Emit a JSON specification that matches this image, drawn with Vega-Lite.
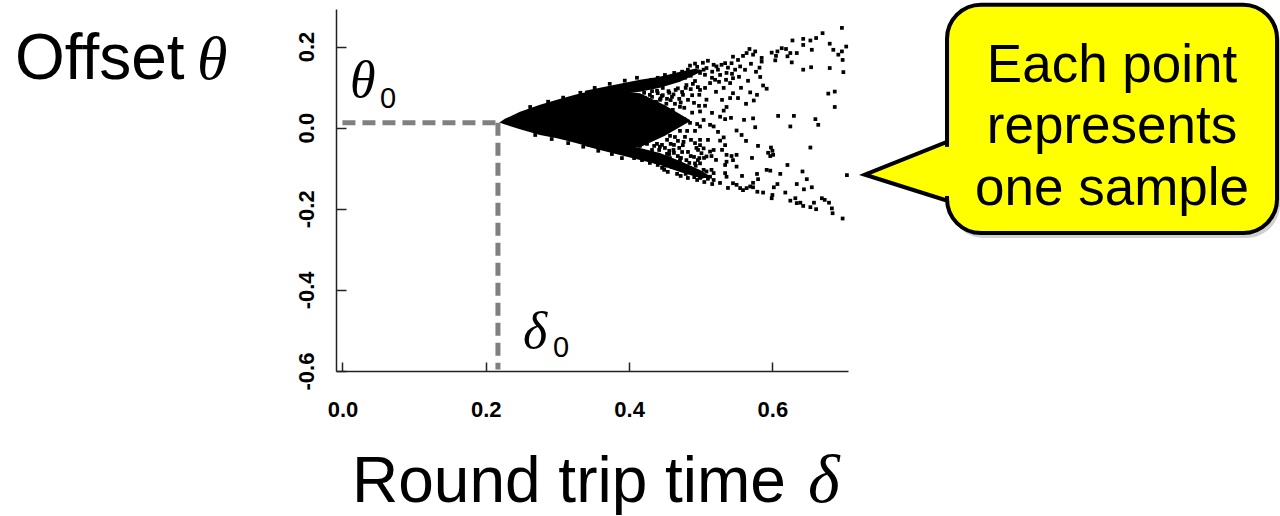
{
  "$schema": "https://vega.github.io/schema/vega-lite/v6.json",
  "width": 512,
  "height": 362,
  "autosize": "none",
  "padding": {"left": 336, "top": 9, "right": 432, "bottom": 145},
  "background": "white",
  "config": {"view": {"stroke": null}},
  "datasets": {
    "pts": [
      {"x":0.348,"y":0.061},{"x":0.352,"y":0.049},{"x":0.347,"y":0.037},{"x":0.355,"y":0.024},{"x":0.350,"y":0.009},{"x":0.357,"y":-0.003},{"x":0.351,"y":-0.015},{"x":0.358,"y":-0.025},{"x":0.362,"y":0.056},{"x":0.365,"y":0.039},{"x":0.361,"y":0.017},{"x":0.368,"y":0.002},{"x":0.364,"y":-0.013},
      {"x":0.371,"y":0.069},{"x":0.375,"y":0.051},{"x":0.372,"y":0.032},{"x":0.378,"y":0.022},{"x":0.373,"y":-0.008},{"x":0.379,"y":-0.023},{"x":0.383,"y":0.059},{"x":0.386,"y":0.041},{"x":0.382,"y":0.009},{"x":0.387,"y":-0.003},{"x":0.385,"y":-0.035},{"x":0.376,"y":-0.043},
      {"x":0.390,"y":0.074},{"x":0.394,"y":0.059},{"x":0.398,"y":0.044},{"x":0.392,"y":0.027},{"x":0.397,"y":0.009},{"x":0.403,"y":-0.008},{"x":0.393,"y":-0.020},{"x":0.400,"y":-0.033},{"x":0.407,"y":0.069},{"x":0.411,"y":0.051},{"x":0.405,"y":0.032},{"x":0.412,"y":0.014},{"x":0.410,"y":-0.020},{"x":0.415,"y":-0.045},{"x":0.404,"y":-0.050},{"x":0.396,"y":-0.055},
      {"x":0.418,"y":0.103},{"x":0.422,"y":0.113},{"x":0.426,"y":0.098},{"x":0.431,"y":0.118},{"x":0.436,"y":0.108},{"x":0.440,"y":0.123},{"x":0.421,"y":0.086},{"x":0.429,"y":0.081},{"x":0.439,"y":0.091},{"x":0.424,"y":0.066},{"x":0.433,"y":0.049},{"x":0.442,"y":0.037},{"x":0.419,"y":0.022},{"x":0.426,"y":0.004},{"x":0.436,"y":-0.008},{"x":0.417,"y":-0.028},{"x":0.425,"y":-0.040},{"x":0.432,"y":-0.055},{"x":0.440,"y":-0.067},{"x":0.421,"y":-0.067},{"x":0.429,"y":-0.080},{"x":0.438,"y":-0.085},{"x":0.443,"y":-0.047},
      {"x":0.446,"y":0.121},{"x":0.450,"y":0.130},{"x":0.454,"y":0.113},{"x":0.459,"y":0.125},{"x":0.463,"y":0.135},{"x":0.467,"y":0.118},{"x":0.471,"y":0.130},{"x":0.447,"y":0.098},{"x":0.456,"y":0.086},{"x":0.465,"y":0.093},{"x":0.452,"y":0.059},{"x":0.461,"y":0.044},{"x":0.470,"y":0.071},{"x":0.449,"y":0.014},{"x":0.459,"y":-0.001},{"x":0.468,"y":0.024},{"x":0.453,"y":-0.030},{"x":0.464,"y":-0.023},{"x":0.446,"y":-0.080},{"x":0.450,"y":-0.094},{"x":0.457,"y":-0.075},{"x":0.461,"y":-0.087},{"x":0.465,"y":-0.099},{"x":0.471,"y":-0.080},{"x":0.456,"y":-0.057},{"x":0.470,"y":-0.050},
      {"x":0.474,"y":0.138},{"x":0.478,"y":0.123},{"x":0.482,"y":0.143},{"x":0.486,"y":0.128},{"x":0.491,"y":0.138},{"x":0.495,"y":0.150},{"x":0.499,"y":0.135},{"x":0.479,"y":0.098},{"x":0.489,"y":0.108},{"x":0.498,"y":0.081},{"x":0.477,"y":0.049},{"x":0.488,"y":0.037},{"x":0.495,"y":0.009},{"x":0.481,"y":-0.008},{"x":0.475,"y":-0.043},{"x":0.492,"y":-0.038},{"x":0.474,"y":-0.092},{"x":0.478,"y":-0.104},{"x":0.484,"y":-0.087},{"x":0.488,"y":-0.109},{"x":0.493,"y":-0.094},{"x":0.498,"y":-0.117},{"x":0.482,"y":-0.124},{"x":0.496,"y":-0.080},
      {"x":0.401,"y":-0.067},{"x":0.407,"y":-0.075},{"x":0.412,"y":-0.062},{"x":0.418,"y":-0.080},{"x":0.424,"y":-0.072},{"x":0.429,"y":-0.087},{"x":0.435,"y":-0.075},{"x":0.440,"y":-0.092},{"x":0.446,"y":-0.099},
      {"x":0.449,"y":-0.104},{"x":0.454,"y":-0.109},{"x":0.460,"y":-0.097},{"x":0.467,"y":-0.114},{"x":0.472,"y":-0.119},{"x":0.479,"y":-0.114},{"x":0.485,"y":-0.099},{"x":0.491,"y":-0.122},{"x":0.495,"y":-0.129},{"x":0.499,"y":-0.124},{"x":0.505,"y":-0.134},{"x":0.510,"y":-0.126},{"x":0.516,"y":-0.139},
      {"x":0.485,"y":0.153},{"x":0.492,"y":0.158},
      {"x":0.432,"y":0.090},{"x":0.440,"y":0.085},{"x":0.447,"y":0.080},{"x":0.455,"y":0.090},{"x":0.462,"y":0.082},{"x":0.468,"y":0.097},{"x":0.474,"y":0.088},{"x":0.480,"y":0.105},{"x":0.486,"y":0.095},{"x":0.492,"y":0.115},{"x":0.458,"y":0.068},{"x":0.472,"y":0.062},{"x":0.488,"y":0.080},{"x":0.496,"y":0.100},{"x":0.444,"y":0.072},
      {"x":0.435,"y":-0.045},{"x":0.442,"y":-0.055},{"x":0.450,"y":-0.050},{"x":0.456,"y":-0.065},{"x":0.462,"y":-0.055},{"x":0.468,"y":-0.070},{"x":0.474,"y":-0.060},{"x":0.480,"y":-0.080},{"x":0.486,"y":-0.070},{"x":0.492,"y":-0.088},{"x":0.498,"y":-0.075},{"x":0.458,"y":-0.040},{"x":0.476,"y":-0.035},{"x":0.494,"y":-0.050},
      {"x":0.3957,"y":0.0637},{"x":0.4013,"y":0.0588},{"x":0.3985,"y":-0.0252},{"x":0.4068,"y":-0.0326},{"x":0.4138,"y":0.0563},{"x":0.4166,"y":0.044},{"x":0.411,"y":-0.0079},{"x":0.418,"y":-0.0202},
      {"x":0.4222,"y":0.0736},{"x":0.4278,"y":0.0588},{"x":0.432,"y":0.076},{"x":0.4375,"y":0.0637},{"x":0.4431,"y":0.0686},{"x":0.4208,"y":0.0341},{"x":0.4292,"y":0.0217},{"x":0.4236,"y":-0.0128},{"x":0.432,"y":-0.0252},{"x":0.4389,"y":-0.04},{"x":0.4417,"y":0.0094},{"x":0.4347,"y":0.002},{"x":0.4445,"y":-0.0128},
      {"x":0.4459,"y":0.0785},{"x":0.4529,"y":0.0711},{"x":0.4599,"y":0.076},{"x":0.464,"y":0.0588},{"x":0.471,"y":0.0514},{"x":0.4473,"y":0.039},{"x":0.4557,"y":0.0291},{"x":0.4654,"y":0.0094},{"x":0.471,"y":-0.0079},{"x":0.4487,"y":-0.0104},{"x":0.4571,"y":-0.0202},{"x":0.4626,"y":-0.0425},{"x":0.4682,"y":-0.0326},{"x":0.4459,"y":-0.0425},{"x":0.4529,"y":-0.0647},{"x":0.4626,"y":-0.0622},
      {"x":0.4752,"y":0.081},{"x":0.4822,"y":0.0686},{"x":0.4906,"y":0.0612},{"x":0.4976,"y":0.0538},{"x":0.4766,"y":0.0217},{"x":0.485,"y":0.0119},{"x":0.492,"y":-0.0079},{"x":0.478,"y":-0.0227},{"x":0.4864,"y":-0.0301},{"x":0.4962,"y":-0.0548},{"x":0.4822,"y":-0.0598},{"x":0.4906,"y":-0.0721},{"x":0.499,"y":-0.0301},{"x":0.4724,"y":-0.0746},
      {"x":0.559,"y":0.177},{"x":0.564,"y":0.184},{"x":0.555,"y":0.151},{"x":0.543,"y":0.159},{"x":0.534,"y":0.159},{"x":0.529,"y":0.155},{"x":0.522,"y":0.151},{"x":0.518,"y":0.155},{"x":0.508,"y":0.147},{"x":0.504,"y":0.143},{"x":0.536,"y":0.135},{"x":0.527,"y":0.130},{"x":0.520,"y":0.118},{"x":0.513,"y":0.110},{"x":0.506,"y":0.098},{"x":0.499,"y":0.093},{"x":0.545,"y":0.122},{"x":0.541,"y":0.110},{"x":0.532,"y":0.098},{"x":0.545,"y":0.085},{"x":0.552,"y":0.073},{"x":0.541,"y":0.073},{"x":0.569,"y":0.087},{"x":0.508,"y":0.069},{"x":0.506,"y":0.054},{"x":0.499,"y":0.040},{"x":0.536,"y":0.051},{"x":0.532,"y":0.042},{"x":0.527,"y":0.027},{"x":0.534,"y":0.021},{"x":0.504,"y":0.019},{"x":0.513,"y":0.007},{"x":0.499,"y":0.003},{"x":0.518,"y":0.003},{"x":0.550,"y":-0.007},{"x":0.557,"y":-0.018},{"x":0.532,"y":-0.024},{"x":0.527,"y":-0.032},{"x":0.534,"y":-0.043},{"x":0.499,"y":-0.043},{"x":0.504,"y":-0.051},{"x":0.501,"y":-0.063},{"x":0.513,"y":-0.059},{"x":0.518,"y":-0.055},{"x":0.508,"y":-0.071},{"x":0.515,"y":-0.070},{"x":0.536,"y":-0.067},{"x":0.543,"y":-0.070},{"x":0.550,"y":-0.067},{"x":0.545,"y":-0.080},{"x":0.534,"y":-0.092},{"x":0.536,"y":-0.084},{"x":0.550,"y":-0.096},{"x":0.499,"y":-0.088},{"x":0.504,"y":-0.104},{"x":0.508,"y":-0.108},{"x":0.515,"y":-0.104},{"x":0.518,"y":-0.112},{"x":0.513,"y":-0.121},{"x":0.518,"y":-0.129},{"x":0.501,"y":-0.121},{"x":0.534,"y":-0.112},{"x":0.536,"y":-0.121},{"x":0.545,"y":-0.137},{"x":0.550,"y":-0.141},{"x":0.555,"y":-0.149},{"x":0.559,"y":-0.154},{"x":0.564,"y":-0.149},{"x":0.569,"y":-0.145},
      {"x":0.503,"y":0.160},{"x":0.510,"y":0.165},{"x":0.516,"y":0.138},{"x":0.524,"y":0.143},{"x":0.538,"y":0.148},{"x":0.548,"y":0.143},{"x":0.552,"y":0.167},{"x":0.545,"y":0.175},
      {"x":0.5059,"y":0.1304},{"x":0.5157,"y":0.123},{"x":0.5255,"y":0.1131},{"x":0.5353,"y":0.118},{"x":0.5436,"y":0.1328},{"x":0.5534,"y":0.1254},{"x":0.5618,"y":0.1427},{"x":0.5701,"y":0.1575},{"x":0.5771,"y":0.1378},{"x":0.566,"y":0.1156},{"x":0.5213,"y":0.0884},{"x":0.5562,"y":0.0983},{"x":0.5785,"y":0.081},{"x":0.5297,"y":0.0686},{"x":0.5632,"y":0.0588},{"x":0.5157,"y":0.0365},{"x":0.5422,"y":0.0242},{"x":0.5604,"y":0.0193},{"x":0.5241,"y":-0.0104},{"x":0.5632,"y":-0.0326},{"x":0.5799,"y":-0.0449},{"x":0.5101,"y":-0.0301},{"x":0.5715,"y":-0.0746},{"x":0.5576,"y":-0.119},{"x":0.5269,"y":-0.1363},{"x":0.538,"y":-0.1486},{"x":0.5785,"y":-0.1141},{"x":0.5213,"y":-0.0795},{"x":0.5046,"y":-0.0746},{"x":0.5297,"y":-0.0548},
      {"x":0.697,"y":0.246},{"x":0.670,"y":0.233},{"x":0.661,"y":0.221},{"x":0.653,"y":0.215},{"x":0.643,"y":0.219},{"x":0.643,"y":0.204},{"x":0.628,"y":0.215},{"x":0.680,"y":0.207},{"x":0.703,"y":0.200},{"x":0.697,"y":0.188},{"x":0.692,"y":0.180},{"x":0.698,"y":0.167},{"x":0.685,"y":0.192},{"x":0.655,"y":0.192},{"x":0.634,"y":0.184},{"x":0.625,"y":0.184},{"x":0.621,"y":0.176},{"x":0.627,"y":0.161},{"x":0.619,"y":0.194},{"x":0.607,"y":0.188},{"x":0.599,"y":0.185},{"x":0.605,"y":0.177},{"x":0.604,"y":0.166},{"x":0.613,"y":0.196},{"x":0.585,"y":0.172},{"x":0.576,"y":0.188},{"x":0.568,"y":0.194},{"x":0.573,"y":0.180},{"x":0.585,"y":0.163},{"x":0.582,"y":0.148},{"x":0.643,"y":0.143},{"x":0.654,"y":0.149},{"x":0.680,"y":0.147},{"x":0.699,"y":0.137},{"x":0.583,"y":0.125},{"x":0.587,"y":0.104},{"x":0.592,"y":0.096},{"x":0.574,"y":0.067},{"x":0.678,"y":0.084},{"x":0.687,"y":0.089},{"x":0.687,"y":0.051},{"x":0.608,"y":0.029},{"x":0.630,"y":0.029},{"x":0.625,"y":0.003},{"x":0.573,"y":0.023},{"x":0.576,"y":0.001},{"x":0.660,"y":0.021},{"x":0.664,"y":0.007},{"x":0.653,"y":-0.049},{"x":0.598,"y":-0.049},{"x":0.600,"y":-0.057},{"x":0.594,"y":-0.062},{"x":0.597,"y":-0.070},{"x":0.601,"y":-0.067},{"x":0.621,"y":-0.092},{"x":0.592,"y":-0.104},{"x":0.597,"y":-0.106},{"x":0.611,"y":-0.114},{"x":0.642,"y":-0.108},{"x":0.704,"y":-0.117},{"x":0.648,"y":-0.127},{"x":0.634,"y":-0.139},{"x":0.607,"y":-0.139},{"x":0.602,"y":-0.147},{"x":0.655,"y":-0.147},{"x":0.644,"y":-0.152},{"x":0.618,"y":-0.160},{"x":0.600,"y":-0.166},{"x":0.599,"y":-0.174},{"x":0.580,"y":-0.127},{"x":0.573,"y":-0.136},{"x":0.573,"y":-0.147},{"x":0.579,"y":-0.158},{"x":0.587,"y":-0.160},{"x":0.625,"y":-0.180},{"x":0.632,"y":-0.174},{"x":0.639,"y":-0.185},{"x":0.643,"y":-0.193},{"x":0.653,"y":-0.196},{"x":0.658,"y":-0.185},{"x":0.661,"y":-0.201},{"x":0.669,"y":-0.174},{"x":0.673,"y":-0.178},{"x":0.679,"y":-0.185},{"x":0.683,"y":-0.199},{"x":0.684,"y":-0.211},{"x":0.698,"y":-0.224},{"x":0.634,"y":-0.186},
      {"x":0.262,"y":0.051},{"x":0.287,"y":0.064},{"x":0.308,"y":0.074},{"x":0.332,"y":0.086},{"x":0.352,"y":0.098},{"x":0.373,"y":0.108},{"x":0.394,"y":0.116},{"x":0.411,"y":0.123},{"x":0.269,"y":-0.018},{"x":0.292,"y":-0.028},{"x":0.315,"y":-0.038},{"x":0.336,"y":-0.047},{"x":0.357,"y":-0.057},{"x":0.376,"y":-0.065},{"x":0.390,"y":-0.075}
    ],
    "core": [
      {"part":"core","x":0.219,"y2":0.013,"y":0.013},
      {"part":"core","x":0.2268,"y2":0.0081,"y":0.0217},
      {"part":"core","x":0.2478,"y2":-0.0042,"y":0.039},
      {"part":"core","x":0.2757,"y2":-0.0178,"y":0.0563},
      {"part":"core","x":0.2994,"y2":-0.0264,"y":0.0686},
      {"part":"core","x":0.3245,"y2":-0.0375,"y":0.081},
      {"part":"core","x":0.3454,"y2":-0.0474,"y":0.0896},
      {"part":"core","x":0.3803,"y2":-0.052,"y":0.092},
      {"part":"core","x":0.4152,"y2":-0.048,"y":0.085},
      {"part":"core","x":0.450,"y2":-0.02,"y":0.055},
      {"part":"core","x":0.485,"y2":0.016,"y":0.019},
      {"part":"upper","x":0.3384,"y2":0.06,"y":0.0909},
      {"part":"upper","x":0.3594,"y2":0.0686,"y":0.0983},
      {"part":"upper","x":0.3873,"y2":0.0834,"y":0.1082},
      {"part":"upper","x":0.4152,"y2":0.0884,"y":0.118},
      {"part":"upper","x":0.4431,"y2":0.0983,"y":0.1254},
      {"part":"upper","x":0.471,"y2":0.1131,"y":0.1378},
      {"part":"upper","x":0.492,"y2":0.1304,"y":0.1452},
      {"part":"upper","x":0.5017,"y2":0.140,"y":0.142},
      {"part":"lower","x":0.3384,"y2":-0.0449,"y":-0.03},
      {"part":"lower","x":0.3594,"y2":-0.0548,"y":-0.0301},
      {"part":"lower","x":0.3873,"y2":-0.0672,"y":-0.04},
      {"part":"lower","x":0.4152,"y2":-0.0795,"y":-0.0499},
      {"part":"lower","x":0.4431,"y2":-0.0919,"y":-0.0622},
      {"part":"lower","x":0.471,"y2":-0.1091,"y":-0.0821},
      {"part":"lower","x":0.499,"y2":-0.1244,"y":-0.1043},
      {"part":"lower","x":0.5157,"y2":-0.124,"y":-0.122}
    ]
  },
  "encoding": {
    "x": {"field":"x","type":"quantitative","scale":{"domain":[-0.009,0.7055],"nice":false,"zero":false},
      "axis":{"title":null,"values":[0,0.2,0.4,0.6],"format":".1f","grid":false,"tickSize":-9,"tickWidth":1.5,"tickColor":"#222","domainColor":"#222","domainWidth":1.5,"labelPadding":37,"labelFont":"Liberation Sans","labelFontWeight":"bold","labelFontSize":22,"labelColor":"#000","labelBaseline":"top","labelAlign":"center","labelFlush":false,"labelOverlap":false}},
    "y": {"field":"y","type":"quantitative","scale":{"domain":[-0.6,0.2926],"nice":false,"zero":false},
      "axis":{"title":null,"values":[0.2,0,-0.2,-0.4,-0.6],"labelExpr":"datum.value < 0 ? '-' + format(-datum.value, '.1f') : format(datum.value, '.1f')","grid":false,"tickSize":-10,"tickWidth":1.5,"tickColor":"#222","domainColor":"#222","domainWidth":1.5,"labelPadding":33,"labelAngle":270,"labelFont":"Liberation Sans","labelFontWeight":"bold","labelFontSize":22,"labelColor":"#000","labelBaseline":"alphabetic","labelAlign":"center","labelFlush":false,"labelOverlap":false}}
  },
  "layer": [
    {
      "data": {"values": [
        {"x":0,"y":0.012,"x2":0.217,"y2":0.012},
        {"x":0.217,"y":0.012,"x2":0.217,"y2":-0.596}
      ]},
      "mark": {"type":"rule","color":"#808080","strokeWidth":5,"strokeDash":[13,7],"strokeCap":"butt"},
      "encoding": {"x2": {"field":"x2"}, "y2": {"field":"y2"}}
    },
    {
      "data": {"name":"core"},
      "mark": {"type":"area","color":"black","opacity":1},
      "encoding": {"y2": {"field":"y2"}, "detail": {"field":"part"}}
    },
    {
      "data": {"name":"pts"},
      "mark": {"type":"point","shape":"square","filled":true,"size":14,"color":"black","opacity":1,"strokeWidth":0},
      "encoding": {}
    },
    {
      "data": {"values": [
        {"x":-0.457,"y":0.1205,"t":"Offset"},
        {"x":0.0133,"y":-0.924,"t":"Round trip time"}
      ]},
      "mark": {"type":"text","font":"Liberation Sans","fontSize":64,"align":"left","baseline":"alphabetic","color":"black"},
      "encoding": {"text": {"field":"t"}}
    },
    {
      "data": {"values": [
        {"x":-0.2031,"y":0.1205,"t":"θ"}
      ]},
      "mark": {"type":"text","font":"Liberation Serif","fontStyle":"italic","fontSize":62,"align":"left","baseline":"alphabetic","color":"black"},
      "encoding": {"text": {"field":"t"}}
    },
    {
      "data": {"values": [
        {"x":0.6497,"y":-0.924,"t":"δ"}
      ]},
      "mark": {"type":"text","font":"Liberation Serif","fontStyle":"italic","fontSize":68,"align":"left","baseline":"alphabetic","color":"black"},
      "encoding": {"text": {"field":"t"}}
    },
    {
      "data": {"values": [
        {"x":0.0105,"y":0.076,"t":"θ"},
        {"x":0.2519,"y":-0.5437,"t":"δ"}
      ]},
      "mark": {"type":"text","font":"Liberation Serif","fontStyle":"italic","fontSize":52,"align":"left","baseline":"alphabetic","color":"black"},
      "encoding": {"text": {"field":"t"}}
    },
    {
      "data": {"values": [
        {"x":0.0523,"y":0.0489,"t":"0"},
        {"x":0.2938,"y":-0.566,"t":"0"}
      ]},
      "mark": {"type":"text","font":"Liberation Sans","fontSize":29,"align":"left","baseline":"alphabetic","color":"black"},
      "encoding": {"text": {"field":"t"}}
    },
    {
      "data": {"values": [{"x":0.8479,"x2":1.3084,"y":0.2909,"y2":-0.2721}]},
      "mark": {"type":"rect","color":"#999999","opacity":0.45,"cornerRadius":34},
      "encoding": {"x2": {"field":"x2"}, "y2": {"field":"y2"}}
    },
    {
      "data": {"values": [
        {"x":0.7292,"y":-0.116,"y2":-0.116},
        {"x":0.8618,"y":-0.0222,"y2":-0.19}
      ]},
      "mark": {"type":"area","fill":"#FFFF00","stroke":"black","strokeWidth":4,"strokeJoin":"miter","opacity":1,"fillOpacity":1},
      "encoding": {"y2": {"field":"y2"}}
    },
    {
      "data": {"values": [{"x":0.8437,"x2":1.3042,"y":0.3032,"y2":-0.2598}]},
      "mark": {"type":"rect","fill":"#FFFF00","stroke":"black","strokeWidth":4,"cornerRadius":34,"opacity":1},
      "encoding": {"x2": {"field":"x2"}, "y2": {"field":"y2"}}
    },
    {
      "data": {"values": [{"x":0.8382,"x2":0.8521,"y":-0.0474,"y2":-0.1684}]},
      "mark": {"type":"rect","fill":"#FFFF00","strokeWidth":0,"opacity":1},
      "encoding": {"x2": {"field":"x2"}, "y2": {"field":"y2"}}
    },
    {
      "data": {"values": [
        {"x":1.074,"y":0.1131,"t":"Each point"},
        {"x":1.074,"y":-0.0375,"t":"represents"},
        {"x":1.074,"y":-0.1906,"t":"one sample"}
      ]},
      "mark": {"type":"text","font":"Liberation Sans","fontSize":53,"align":"center","baseline":"alphabetic","color":"black"},
      "encoding": {"text": {"field":"t"}}
    }
  ]
}
